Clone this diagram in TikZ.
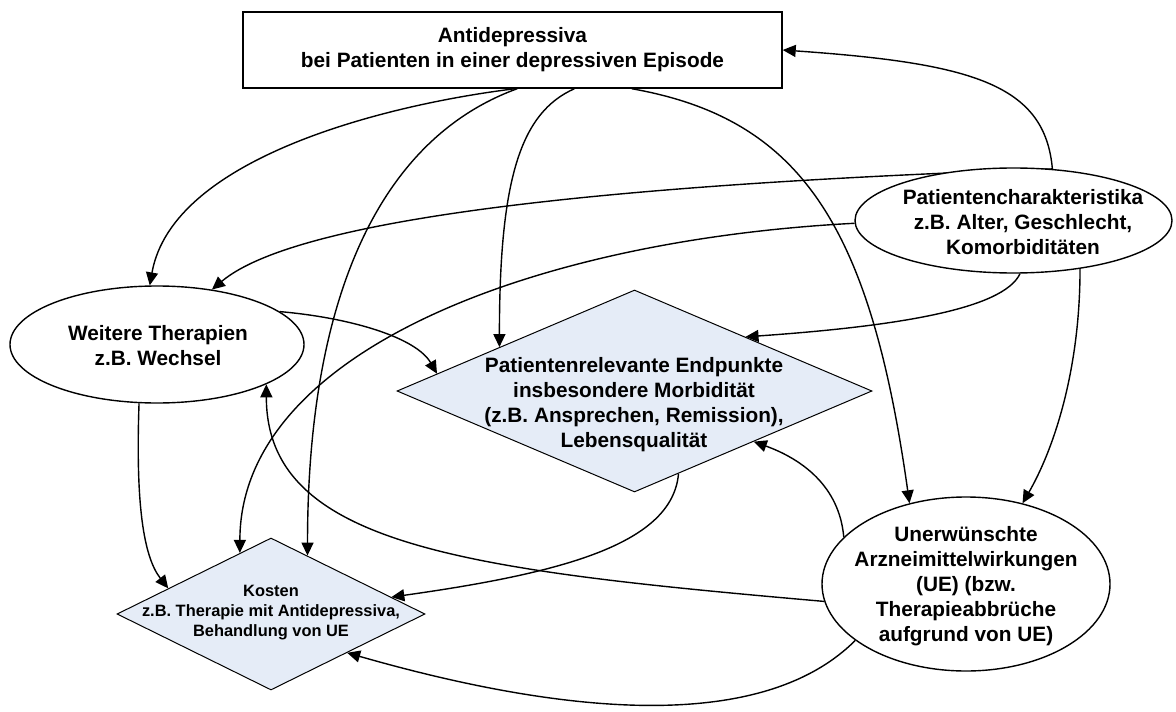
\documentclass[tikz,border=0pt]{standalone}
\usepackage{fontspec}
\setmainfont{Liberation Sans}
\usetikzlibrary{shapes.geometric,arrows.meta}
\pgfdeclarelayer{background}
\pgfsetlayers{background,main}
\definecolor{endfill}{RGB}{229,236,247}
\tikzstyle{box}=[draw,rectangle,fill=white,line width=0.7pt,minimum width=269.5pt,minimum height=38pt,inner sep=0pt,align=center,font=\fontsize{10.4}{12.5}\selectfont\bfseries]
\tikzstyle{oval}=[draw,ellipse,fill=white,line width=0.7pt,inner sep=0pt]
\tikzstyle{rhomb}=[draw,diamond,fill=endfill,line width=0.5pt,inner sep=0pt]
\tikzstyle{txt}=[align=center,inner sep=0pt,font=\fontsize{10.4}{12.5}\selectfont\bfseries]
\tikzstyle{smalltxt}=[align=center,inner sep=0pt,font=\fontsize{8.2}{10}\selectfont\bfseries]
\tikzstyle{edge}=[draw,line width=0.7pt,-{Triangle[length=6.5pt,width=6pt]}]

\begin{document}
\begin{tikzpicture}[x=0.5pt,y=-0.5pt]
				\useasboundingbox (0,0) rectangle (1176,711);

				% First we draw the shapes
				\node[box] (box) at (512.5,50) {Antidepressiva\\bei Patienten in einer depressiven Episode};
				\foreach \pos/\name/\wdt/\hgt in {{(1013.5,220.5)/pat/158.5/52.5}, {(157,344.5)/weit/147/58.5},
										{(966,584)/uner/144/87}}
				\node[oval, minimum width=\wdt pt, minimum height=\hgt pt] (\name) at \pos {};
				\foreach \pos/\name/\wdt/\hgt in {{(634.5,391)/endp/237.5/101}, {(271,614)/kost/154/76}}
				\node[rhomb, minimum width=\wdt pt, minimum height=\hgt pt] (\name) at \pos {};

				% Then the texts inside them
				\node[txt] (pat-t) at (1023,222) {Patientencharakteristika\\z.B. Alter, Geschlecht,\\Komorbiditäten};
				\node[txt] (weit-t) at (158,346) {Weitere Therapien\\z.B. Wechsel};
				\node[txt] (endp-t) at (634,405) {Patientenrelevante Endpunkte\\insbesondere Morbidität\\(z.B. Ansprechen, Remission),\\Lebensqualität};
				\node[smalltxt] (kost-t) at (271,613) {Kosten\\z.B. Therapie mit Antidepressiva,\\Behandlung von UE};
				\node[txt] (uner-t) at (966,586) {Unerwünschte\\Arzneimittelwirkungen\\(UE) (bzw.\\Therapieabbrüche\\aufgrund von UE)};

				\begin{pgfonlayer}{background}
				% Connect the shapes: source/dest/out/in/out looseness/in looseness
				\foreach \source/\dest/\ao/\ai/\lo/\li in {box.-86/weit.97/187/80/0.8/0.8, box.-83/kost.58/200/90/0.75/1.26,
										box.-32/endp.162/204/90/0.56/1.6, box.-18/uner.125/-10/98/0.88/1.44}
				\path[edge] (\source) to[out=\ao, in=\ai, out looseness=\lo, in looseness=\li] (\dest);

				\foreach \source/\dest/\ao/\ai/\lo/\li in {pat.53/box.0/95/-4/0.74/1.65, pat.53/weit.45/182/40/1.2/0.36,
										pat.181/kost.117/183/90/1.2/0.73, pat.-83/endp.26/-115/4/0.36/1.36, pat.-36/uner.55/-90/60/1.09/0.65}
				\path[edge] (\source) to[out=\ao, in=\ai, out looseness=\lo, in looseness=\li] (\dest);

				\foreach \source/\dest/\ao/\ai/\lo/\li in {weit.15/endp.175/-5/120/1.1/0.63, weit.-107/kost.166/-92/128/1.37/0.55,
										endp.-62/kost.8/-95/8/0.58/1.41}
				\path[edge] (\source) to[out=\ao, in=\ai, out looseness=\lo, in looseness=\li] (\dest);

				\foreach \source/\dest/\ao/\ai/\lo/\li in {uner.187/weit.-20/175/-90/1.54/0.69, uner.159/endp.-23/95/-20/1/1,
										uner.207/kost.-27/225/-16/0.71/1.01}
				\path[edge] (\source) to[out=\ao, in=\ai, out looseness=\lo, in looseness=\li] (\dest);
				\end{pgfonlayer}

			\end{tikzpicture}
\end{document}
